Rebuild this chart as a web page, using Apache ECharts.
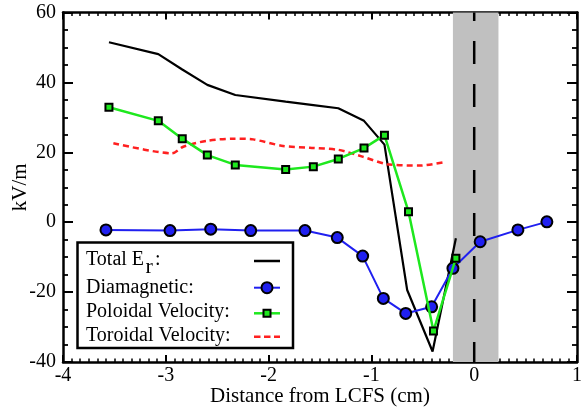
<!DOCTYPE html>
<html>
<head>
<meta charset="utf-8">
<script src="https://cdn.jsdelivr.net/npm/echarts@6/dist/echarts.min.js"></script>
<style>
  html, body { margin: 0; padding: 0; background: #fff; }
  #chart { width: 584px; height: 412px; }
</style>
</head>
<body>
<div id="chart"></div>
<script>
// Radial electric field contributions vs. distance from the LCFS (kV/m)
const totalX = [-3.553, -3.073, -2.840, -2.596, -2.324, -1.834, -1.565, -1.322, -1.072, -0.873, -0.652, -0.405, -0.178];
const totalY = [51.5, 48.1, 43.7, 39.3, 36.4, 34.5, 33.5, 32.6, 29.0, 22.2, -19.4, -37.0, -4.6];

const diaX = [-3.582, -2.959, -2.563, -2.174, -1.646, -1.332, -1.085, -0.884, -0.666, -0.414, -0.207, 0.058, 0.425, 0.707];
const diaY = [-2.2, -2.4, -2.0, -2.4, -2.4, -4.4, -9.7, -21.8, -26.1, -24.2, -13.2, -5.6, -2.2, 0.1];

const polX = [-3.553, -3.073, -2.840, -2.596, -2.324, -1.834, -1.565, -1.322, -1.072, -0.873, -0.639, -0.396, -0.178];
const polY = [32.9, 29.0, 23.9, 19.2, 16.4, 15.1, 15.9, 18.1, 21.2, 24.9, 3.0, -31.1, -10.3];

const torX = [-3.51, -2.94, -2.83, -2.60, -2.34, -2.15, -1.86, -1.60, -1.32, -1.08, -0.85, -0.53, -0.27];
const torY = [22.6, 19.7, 21.6, 23.3, 23.9, 23.7, 21.8, 21.3, 20.7, 18.7, 16.6, 16.2, 17.3];

// Shaded band and LCFS position
const bandX = [-0.207, 0.236];
const lcfsX = 0;

// Axis ticks
const xTicks = [-4, -3, -2, -1, 0, 1];
const yTicks = [-40, -20, 0, 20, 40, 60];

const legendLabels = ['Total E', 'Diamagnetic:', 'Poloidal Velocity:', 'Toroidal Velocity:'];

const zip = (xs, ys) => xs.map((x, i) => [x, ys[i]]);

const FONT = 'Liberation Serif';
const GREEN = '#1ee81e';
const BLUE = '#2020f0';
const RED = '#ff2020';

const xMin = xTicks[0], xMax = xTicks[xTicks.length - 1];
const yMin = yTicks[0], yMax = yTicks[yTicks.length - 1];

function xAxisDef(position, showLabel) {
  return {
    type: 'value', position: position, min: xMin, max: xMax,
    interval: xTicks[1] - xTicks[0],
    axisLine: { show: true, onZero: false, lineStyle: { color: '#000', width: 2.5 } },
    axisTick: { show: true, inside: true, length: 7, lineStyle: { color: '#000', width: 2 } },
    minorTick: { show: true, splitNumber: 12, length: 3.5, lineStyle: { color: '#000', width: 1.5 } },
    splitLine: { show: false },
    axisLabel: { show: showLabel, color: '#000', fontFamily: FONT, fontSize: 20, margin: 4 },
    name: showLabel ? 'Distance from LCFS (cm)' : '',
    nameLocation: 'middle', nameGap: 24, nameMoveOverlap: false,
    nameTextStyle: { color: '#000', fontFamily: FONT, fontSize: 21 }
  };
}
function yAxisDef(position, showLabel) {
  return {
    type: 'value', position: position, min: yMin, max: yMax,
    interval: yTicks[1] - yTicks[0],
    axisLine: { show: true, onZero: false, lineStyle: { color: '#000', width: 2.5 } },
    axisTick: { show: true, inside: true, length: 10, lineStyle: { color: '#000', width: 2 } },
    minorTick: { show: true, splitNumber: 4, length: 5, lineStyle: { color: '#000', width: 1.8 } },
    splitLine: { show: false },
    axisLabel: { show: showLabel, color: '#000', fontFamily: FONT, fontSize: 20, margin: 7 },
    name: showLabel ? 'kV/m' : '',
    nameLocation: 'middle', nameGap: 32, nameRotate: 90, nameMoveOverlap: false,
    nameTextStyle: { color: '#000', fontFamily: FONT, fontSize: 21 }
  };
}

// Legend drawn as a boxed key with samples on the right
const LX = 77.5, LY = 242.5, LW = 215.5, LH = 105.5;
const rowY = [259.5, 287.5, 311.7, 335.8];
const lineY = [261, 287.7, 313.3, 336.7];
const sx0 = 254, sx1 = 280, sxc = 267;
const txt = (text, x, y, size) => ({
  type: 'text', z: 101, style: { text: text, x: x, y: y, fill: '#000', font: size + 'px "' + FONT + '"', verticalAlign: 'middle' }
});
const legendGraphics = [
  { type: 'rect', z: 100, shape: { x: LX, y: LY, width: LW, height: LH }, style: { fill: '#fff', stroke: '#000', lineWidth: 2.5 } },
  txt(legendLabels[0], 86, rowY[0], 20),
  txt('r', 145.5, rowY[0] + 7.5, 22),
  txt(':', 155, rowY[0], 20),
  txt(legendLabels[1], 86, rowY[1], 20),
  txt(legendLabels[2], 86, rowY[2], 20),
  txt(legendLabels[3], 86, rowY[3], 20),
  { type: 'line', z: 101, shape: { x1: sx0, y1: lineY[0], x2: sx1, y2: lineY[0] }, style: { stroke: '#000', lineWidth: 2.5 } },
  { type: 'line', z: 101, shape: { x1: sx0, y1: lineY[1], x2: sx1, y2: lineY[1] }, style: { stroke: BLUE, lineWidth: 2 } },
  { type: 'circle', z: 102, shape: { cx: sxc, cy: lineY[1], r: 5.5 }, style: { fill: BLUE, stroke: '#000', lineWidth: 2 } },
  { type: 'line', z: 101, shape: { x1: sx0, y1: lineY[2], x2: sx1, y2: lineY[2] }, style: { stroke: GREEN, lineWidth: 2.5 } },
  { type: 'rect', z: 102, shape: { x: sxc - 3.5, y: lineY[2] - 3.5, width: 7, height: 7 }, style: { fill: GREEN, stroke: '#000', lineWidth: 2 } },
  { type: 'line', z: 101, shape: { x1: sx0, y1: lineY[3], x2: sx1, y2: lineY[3] }, style: { stroke: RED, lineWidth: 2.5, lineDash: [6.5, 3.5] } }
];

const chart = echarts.init(document.getElementById('chart'), null, { renderer: 'canvas' });
chart.setOption({
  animation: false,
  backgroundColor: '#fff',
  grid: { left: 63, right: 7, top: 12.5, bottom: 50, containLabel: false, outerBoundsMode: 'none' },
  xAxis: [xAxisDef('bottom', true), xAxisDef('top', false)],
  yAxis: [yAxisDef('left', true), yAxisDef('right', false)],
  graphic: legendGraphics,
  series: [
    {
      name: 'LCFS', type: 'line', z: 1, silent: true, symbol: 'none',
      data: [[lcfsX, yMax], [lcfsX, yMin]],
      lineStyle: { color: '#000', width: 2.5, type: [23, 20], dashOffset: 14.5 },
      markArea: {
        silent: true,
        itemStyle: { color: '#c0c0c0' },
        data: [[{ xAxis: bandX[0] }, { xAxis: bandX[1] }]]
      }
    },
    {
      name: 'Total Er', type: 'line', z: 2, symbol: 'none',
      data: zip(totalX, totalY),
      lineStyle: { color: '#000', width: 2.2 }
    },
    {
      name: 'Toroidal Velocity', type: 'line', z: 2, symbol: 'none', smooth: 0.25,
      data: zip(torX, torY),
      lineStyle: { color: RED, width: 2.5, type: [6, 4] }
    },
    {
      name: 'Diamagnetic', type: 'line', z: 3,
      data: zip(diaX, diaY),
      symbol: 'circle', symbolSize: 11,
      lineStyle: { color: BLUE, width: 2 },
      itemStyle: { color: BLUE, borderColor: '#000', borderWidth: 2 }
    },
    {
      name: 'Poloidal Velocity', type: 'line', z: 4,
      data: zip(polX, polY),
      symbol: 'rect', symbolSize: 7,
      lineStyle: { color: GREEN, width: 2.5 },
      itemStyle: { color: GREEN, borderColor: '#000', borderWidth: 2 }
    }
  ]
});
</script>
</body>
</html>
